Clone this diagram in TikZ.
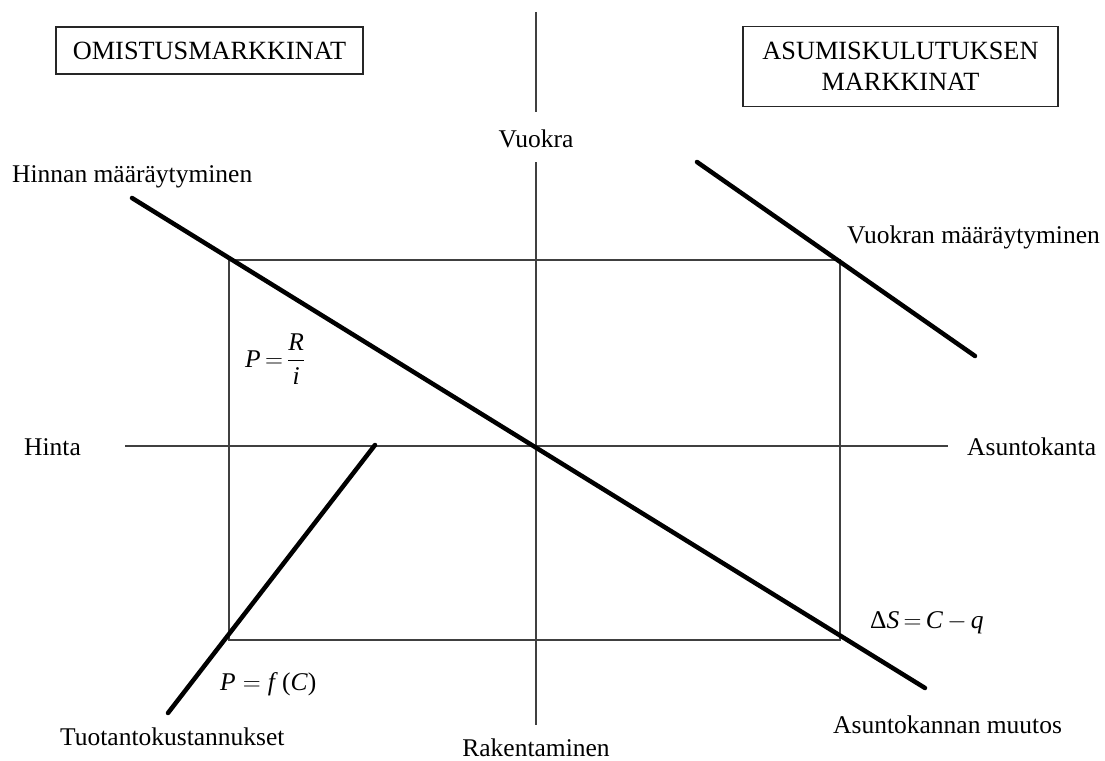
\documentclass[tikz,border=0pt]{standalone}
\usepackage{amsmath}
\usepackage{fontspec}
\setmainfont{Liberation Serif}
\begin{document}
\begin{tikzpicture}[x=1pt,y=-1pt,
  thinline/.style={line width=1.6pt, draw=black!75},
  thickline/.style={line width=4.5pt, line cap=round},
  lbl/.style={font=\fontsize{25.5}{30}\selectfont, inner sep=0pt},
  titlebox/.style={draw=black!85, line width=1.5pt, font=\fontsize{26.3}{31}\selectfont, align=center, inner sep=0pt}]
\useasboundingbox (0,0) rectangle (1105,760);

% title boxes
\node[titlebox, minimum width=307pt, minimum height=47pt] (omis) at (209.5,50.5) {OMISTUSMARKKINAT};
\node[titlebox, minimum width=315pt, minimum height=80pt] (asum) at (900.5,66.5) {ASUMISKULUTUKSEN\\MARKKINAT};

% axis labels
\node[lbl, anchor=base] (vuokra) at (536,147) {Vuokra};
\node[lbl, anchor=base] (rak) at (536,756) {Rakentaminen};
\node[lbl, anchor=base west] (hinta) at (24,455) {Hinta};
\node[lbl, anchor=base west] (kanta) at (967,455) {Asuntokanta};

% curve labels
\node[lbl, anchor=base west] (hinnan) at (12,182) {Hinnan määräytyminen};
\node[lbl, anchor=base west] (vuokran) at (847,243) {Vuokran määräytyminen};
\node[lbl, anchor=base west] (tuot) at (60,745) {Tuotantokustannukset};
\node[lbl, anchor=base west] (muutos) at (833,733) {Asuntokannan muutos};

% formulas
\node[lbl, anchor=base west] (f1) at (245,367) {\textit{P}\,$=$\,$\dfrac{\textit{R}}{\textit{i}}$};
\node[lbl, anchor=base west] (f2) at (220,690) {\textit{P}\;$=$\;\textit{f}\,(\textit{C})};
\node[lbl, anchor=base west] (f3) at (870,628) {Δ\textit{S}\,$=$\,\textit{C}\,$-$\,\textit{q}};

% axes
\coordinate (vtop) at (536,12);
\coordinate (vup) at (536,112);
\coordinate (vmid) at (536,162);
\coordinate (vbot) at (536,725);
\coordinate (hl) at (125,446);
\coordinate (hr) at (948,446);
\draw[thinline] (vtop) -- (vup);
\draw[thinline] (vmid) -- (vbot);
\draw[thinline] (hl) -- (hr);

% rectangle
\coordinate (ra) at (229,260);
\coordinate (rb) at (840,260);
\coordinate (rc) at (840,640);
\coordinate (rd) at (229,640);
\draw[thinline] (ra) -- (rb) -- (rc) -- (rd) -- cycle;

% thick curves
\coordinate (m1) at (132,198);
\coordinate (m2) at (925,688);
\coordinate (v1) at (697,162);
\coordinate (v2) at (975,356);
\coordinate (t1) at (168,713);
\coordinate (t2) at (375,445);
\draw[thickline] (m1) -- (m2);
\draw[thickline] (v1) -- (v2);
\draw[thickline] (t1) -- (t2);
\end{tikzpicture}
\end{document}
